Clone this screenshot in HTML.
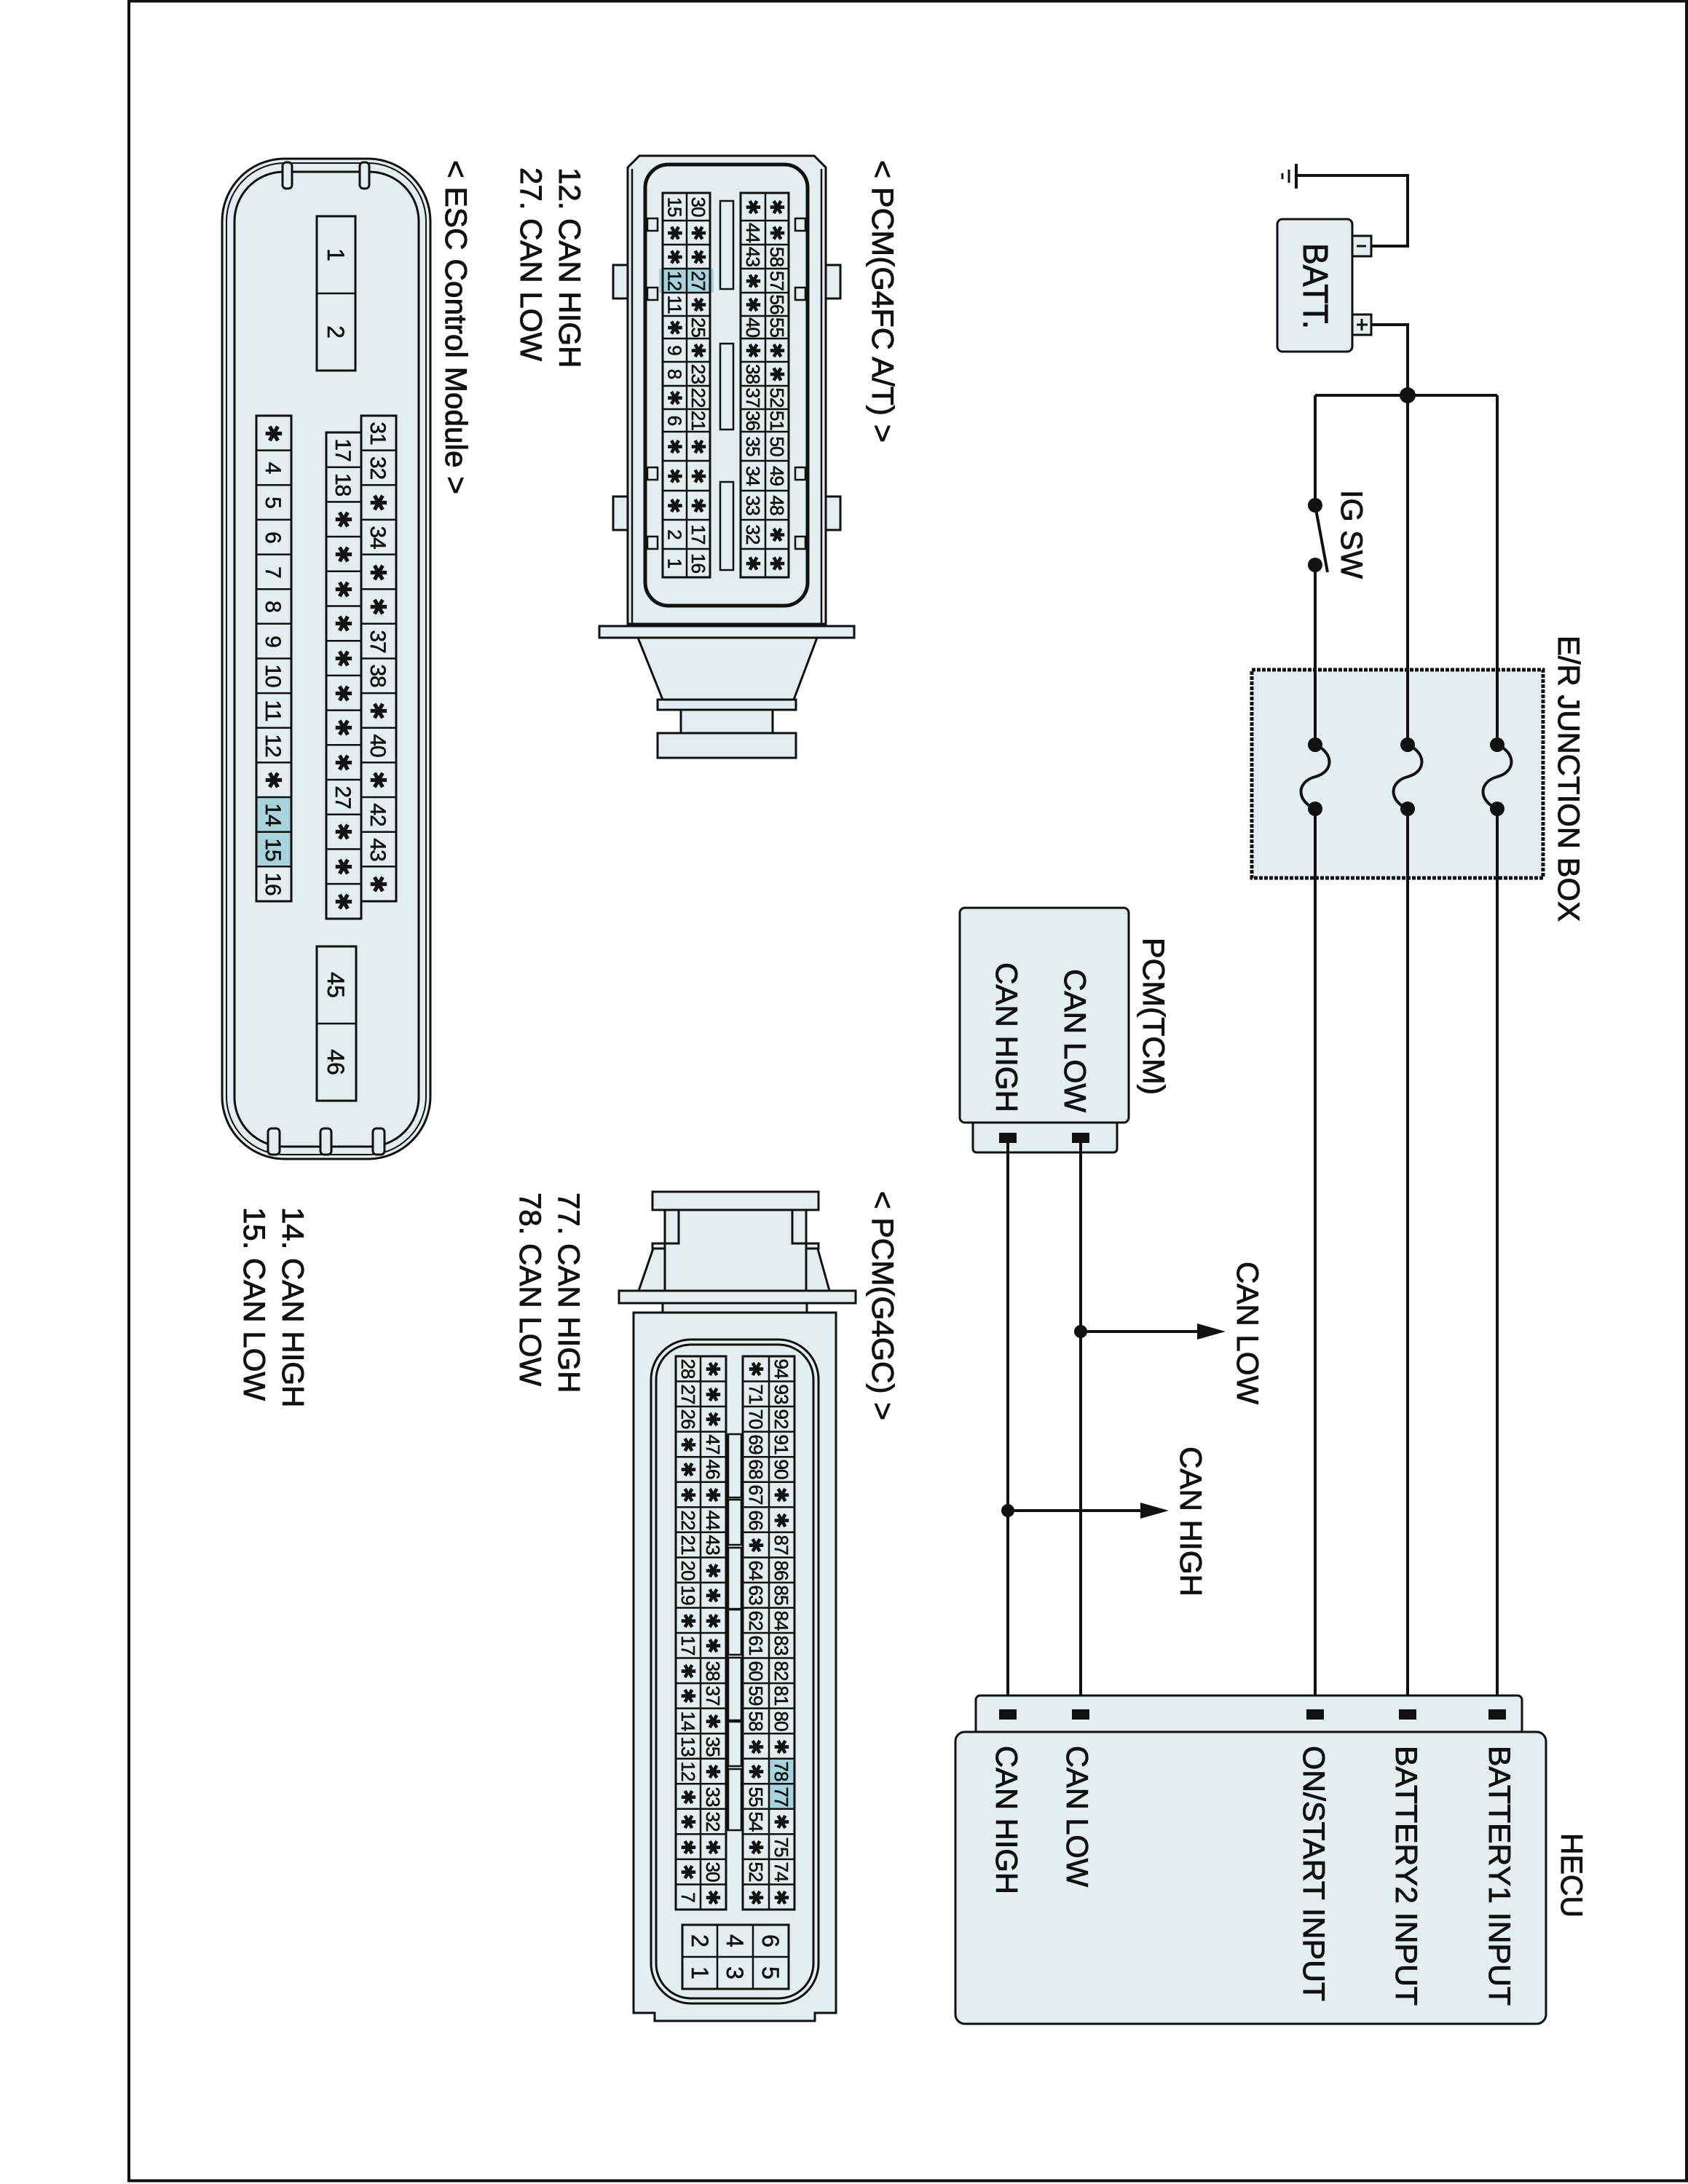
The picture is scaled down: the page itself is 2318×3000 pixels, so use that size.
<!DOCTYPE html>
<html><head><meta charset="utf-8"><style>
html,body{margin:0;padding:0;background:#fff}
svg{display:block}
text{font-family:"Liberation Sans","DejaVu Sans",sans-serif;fill:#111}
.l{font-size:42px;stroke:#111;stroke-width:0.9}
.c{font-size:26px;text-anchor:middle;letter-spacing:-1px;stroke:#111;stroke-width:0.6}
.e{font-size:30px;text-anchor:middle;letter-spacing:-1px;stroke:#111;stroke-width:0.6}
.b{font-size:32px;text-anchor:middle;stroke:#111;stroke-width:0.6}
.f{fill:#e4eef0;stroke:#111;stroke-width:3}
.w{fill:none;stroke:#111;stroke-width:4}
.g{fill:none;stroke:#111;stroke-width:2.5}
</style></head><body>
<svg width="2318" height="3000" viewBox="0 0 2318 3000" xmlns="http://www.w3.org/2000/svg">
<rect x="177" y="1.5" width="2139" height="2994" fill="none" stroke="#111" stroke-width="4"/>

<!-- ground & battery -->
<line x1="1780" y1="225" x2="1780" y2="259" stroke="#111" stroke-width="4"/>
<line x1="1770" y1="233" x2="1770" y2="251" stroke="#111" stroke-width="3"/>
<line x1="1761" y1="238" x2="1761" y2="246" stroke="#111" stroke-width="3"/>
<path class="w" d="M1780,241 H1933 V338 H1883"/>
<path class="w" d="M1883,446 H1933 V543"/>
<rect class="f" x="1754" y="301" width="103" height="182" rx="7"/>
<rect class="f" x="1857" y="324" width="26" height="28"/>
<rect class="f" x="1857" y="432" width="26" height="28"/>
<line x1="1863" y1="338" x2="1876" y2="338" stroke="#111" stroke-width="3"/>
<line x1="1863" y1="446" x2="1878" y2="446" stroke="#111" stroke-width="3"/>
<line x1="1870" y1="438" x2="1870" y2="454" stroke="#111" stroke-width="3"/>

<!-- junction box -->
<rect x="1719" y="920" width="400" height="286" fill="#e4eef0" stroke="#111" stroke-width="5" stroke-dasharray="5 2"/>

<!-- power wires -->
<path class="w" d="M1806,543 H2056"/>
<path class="w" d="M1806,543 V694 M1806,776 V1023 M1806,1111 V2355"/>
<path class="w" d="M1806,694 L1823,786"/>
<path class="w" d="M1933,543 V1023 M1933,1111 V2355"/>
<path class="w" d="M2056,543 V1023 M2056,1111 V2355"/>
<path class="w" d="M1806,1023 C1832,1034 1832,1060 1806,1067 C1780,1074 1780,1100 1806,1111"/>
<path class="w" d="M1933,1023 C1959,1034 1959,1060 1933,1067 C1907,1074 1907,1100 1933,1111"/>
<path class="w" d="M2056,1023 C2082,1034 2082,1060 2056,1067 C2030,1074 2030,1100 2056,1111"/>
<g fill="#111">
<circle cx="1933" cy="543" r="11"/>
<circle cx="1806" cy="694" r="10"/><circle cx="1806" cy="776" r="10"/>
<circle cx="1806" cy="1023" r="10"/><circle cx="1806" cy="1111" r="10"/>
<circle cx="1933" cy="1023" r="10"/><circle cx="1933" cy="1111" r="10"/>
<circle cx="2056" cy="1023" r="10"/><circle cx="2056" cy="1111" r="10"/>
</g>

<!-- TCM -->
<rect class="f" x="1336" y="1538" width="198" height="45" rx="5"/>
<rect class="f" x="1318" y="1247" width="232" height="295" rx="7" stroke-width="4"/>
<path class="w" d="M1384,1563 V2355 M1484,1563 V2355"/>
<rect x="1372" y="1556" width="24" height="14" fill="#111"/>
<rect x="1472" y="1556" width="24" height="14" fill="#111"/>
<path class="w" d="M1484,1829 H1650 M1384,2075 H1570"/>
<polygon points="1644,1818 1683,1829 1644,1840" fill="#111"/>
<polygon points="1566,2064 1605,2075 1566,2086" fill="#111"/>
<circle cx="1484" cy="1829" r="9" fill="#111"/>
<circle cx="1384" cy="2075" r="9" fill="#111"/>

<!-- HECU -->
<rect class="f" x="1340" y="2329" width="750" height="54" rx="6"/>
<rect class="f" x="1312" y="2379" width="811" height="401" rx="13" stroke-width="5"/>
<g fill="#111">
<rect x="1372" y="2348" width="24" height="14"/><rect x="1472" y="2348" width="24" height="14"/>
<rect x="1794" y="2348" width="24" height="14"/><rect x="1921" y="2348" width="24" height="14"/>
<rect x="2044" y="2348" width="24" height="14"/>
</g>

<!-- G4FC connector -->
<rect class="f" x="823" y="860" width="350" height="16"/>
<polygon class="f" points="876,876 1122,876 1090,961 910,961"/>
<rect class="f" x="903" y="961" width="190" height="14"/>
<rect class="f" x="935" y="975" width="126" height="32"/>
<rect class="f" x="903" y="1007" width="190" height="34"/>
<rect class="f" x="842" y="364" width="22" height="46"/><rect class="f" x="842" y="682" width="22" height="46"/>
<rect class="f" x="1132" y="364" width="22" height="46"/><rect class="f" x="1132" y="682" width="22" height="46"/>
<path class="f" d="M862,857 L862,230 L878,214 L1118,214 L1134,230 L1134,857 Z"/>
<path class="g" d="M868,857 V232 M1128,857 V232"/>
<rect x="886" y="226" width="223" height="606" rx="32" fill="#e4eef0" stroke="#111" stroke-width="5"/>
<g class="f" style="stroke-width:2.5">
<rect x="889" y="300" width="14" height="17"/><rect x="889" y="395" width="14" height="17"/>
<rect x="889" y="642" width="14" height="17"/><rect x="889" y="737" width="14" height="17"/>
<rect x="1092" y="300" width="14" height="17"/><rect x="1092" y="395" width="14" height="17"/>
<rect x="1092" y="642" width="14" height="17"/><rect x="1092" y="737" width="14" height="17"/>
<rect x="989" y="276" width="18" height="121"/><rect x="989" y="472" width="18" height="118"/><rect x="989" y="662" width="18" height="121"/>
</g>
<rect x="905" y="369" width="75" height="33" fill="#a9d3dc"/>
<rect x="910" y="265" width="65" height="528" fill="none" stroke="#111" stroke-width="3"/>
<rect x="1017" y="265" width="66" height="528" fill="none" stroke="#111" stroke-width="3"/>
<path class="g" d="M943,265V793 M1051,265V793
M910,303H975 M910,336H975 M910,369H975 M910,402H975 M910,434H975 M910,465H975 M910,497H975 M910,530H975 M910,562H975 M910,593H975 M910,633H975 M910,674H975 M910,714H975 M910,754H975
M1017,303H1083 M1017,336H1083 M1017,369H1083 M1017,402H1083 M1017,434H1083 M1017,465H1083 M1017,497H1083 M1017,530H1083 M1017,562H1083 M1017,593H1083 M1017,633H1083 M1017,674H1083 M1017,714H1083 M1017,754H1083"/>

<!-- G4GC connector -->
<rect class="f" x="850" y="1773" width="325" height="17"/>
<polygon class="f" points="877,1773 898,1712 913,1712 913,1773"/>
<polygon class="f" points="1107,1712 1122,1712 1139,1773 1107,1773"/>
<rect class="f" x="913" y="1660" width="194" height="113"/>
<rect class="f" x="913" y="1662" width="19" height="46"/><rect class="f" x="1088" y="1662" width="19" height="46"/>
<rect class="f" x="896" y="1637" width="228" height="25"/>
<rect class="f" x="896" y="1708" width="17" height="7"/><rect class="f" x="1107" y="1708" width="17" height="7"/>
<rect class="f" x="910" y="1790" width="198" height="13"/>
<polygon class="f" points="870,1803 1148,1803 1148,2765 1119,2765 1119,2776 899,2776 899,2765 870,2765"/>
<rect x="894" y="1840" width="230" height="912" rx="55" fill="none" stroke="#111" stroke-width="3"/>
<rect x="901" y="1847" width="216" height="898" rx="48" fill="none" stroke="#111" stroke-width="3"/>
<g class="f" style="stroke-width:2.5">
<rect x="1000" y="1970" width="18" height="87"/><rect x="1000" y="2060" width="18" height="62"/>
<rect x="1000" y="2126" width="18" height="84"/><rect x="1000" y="2211" width="18" height="62"/>
<rect x="1000" y="2277" width="18" height="86"/><rect x="1000" y="2365" width="18" height="61"/>
<rect x="1000" y="2430" width="18" height="84"/>
</g>
<line x1="998" y1="1970" x2="998" y2="2514" stroke="#111" stroke-width="5"/>
<rect x="1056" y="2416" width="35" height="69" fill="#a9d3dc"/>
<rect x="928" y="1863" width="69" height="760" fill="none" stroke="#111" stroke-width="3"/>
<rect x="1020" y="1863" width="71" height="760" fill="none" stroke="#111" stroke-width="3"/>
<path class="g" d="M962,1863V2623 M1056,1863V2623
M928,1897.5H997 M928,1932H997 M928,1966.6H997 M928,2001.2H997 M928,2035.7H997 M928,2070.3H997 M928,2104.8H997 M928,2139.4H997 M928,2173.9H997 M928,2208.5H997 M928,2243H997 M928,2277.5H997 M928,2312.1H997 M928,2346.6H997 M928,2381.2H997 M928,2415.7H997 M928,2450.3H997 M928,2484.8H997 M928,2519.4H997 M928,2553.9H997 M928,2588.5H997
M1020,1897.5H1091 M1020,1932H1091 M1020,1966.6H1091 M1020,2001.2H1091 M1020,2035.7H1091 M1020,2070.3H1091 M1020,2104.8H1091 M1020,2139.4H1091 M1020,2173.9H1091 M1020,2208.5H1091 M1020,2243H1091 M1020,2277.5H1091 M1020,2312.1H1091 M1020,2346.6H1091 M1020,2381.2H1091 M1020,2415.7H1091 M1020,2450.3H1091 M1020,2484.8H1091 M1020,2519.4H1091 M1020,2553.9H1091 M1020,2588.5H1091"/>
<rect x="937" y="2644" width="146" height="88" fill="none" stroke="#111" stroke-width="3"/>
<path class="g" d="M985,2644V2732 M1034,2644V2732 M937,2688H1083"/>

<!-- ESC module -->
<rect x="305" y="218" width="286" height="1374" rx="86" fill="#e4eef0" stroke="#111" stroke-width="3"/>
<rect x="311" y="224" width="274" height="1362" rx="80" fill="none" stroke="#111" stroke-width="2"/>
<rect x="322" y="236" width="253" height="1339" rx="68" fill="none" stroke="#111" stroke-width="3"/>
<rect class="f" x="388" y="223" width="13" height="36" rx="5"/><rect class="f" x="494" y="223" width="13" height="36" rx="5"/>
<rect class="f" x="368" y="1550" width="16" height="36" rx="5"/><rect class="f" x="440" y="1550" width="15" height="36" rx="5"/><rect class="f" x="512" y="1550" width="16" height="36" rx="5"/>
<rect class="f" x="435" y="297" width="53" height="212"/><line x1="435" y1="403" x2="488" y2="403" stroke="#111" stroke-width="2.5"/>
<rect class="f" x="435" y="1300" width="54" height="212"/><line x1="435" y1="1406" x2="489" y2="1406" stroke="#111" stroke-width="2.5"/>
<rect x="352" y="1095" width="48" height="95" fill="#a9d3dc"/>
<rect x="352" y="571" width="48" height="667" fill="none" stroke="#111" stroke-width="3"/>
<rect x="448" y="594" width="48" height="668" fill="none" stroke="#111" stroke-width="3"/>
<rect x="496" y="571" width="48" height="667" fill="none" stroke="#111" stroke-width="3"/>
<path class="g" d="M352,618.6H400 M352,666.3H400 M352,713.9H400 M352,761.6H400 M352,809.2H400 M352,856.8H400 M352,904.5H400 M352,952.1H400 M352,999.8H400 M352,1047.4H400 M352,1095H400 M352,1142.7H400 M352,1190.3H400
M496,618.6H544 M496,666.3H544 M496,713.9H544 M496,761.6H544 M496,809.2H544 M496,856.8H544 M496,904.5H544 M496,952.1H544 M496,999.8H544 M496,1047.4H544 M496,1095H544 M496,1142.7H544 M496,1190.3H544
M448,641.7H496 M448,689.4H496 M448,737.1H496 M448,784.8H496 M448,832.5H496 M448,880.2H496 M448,927.9H496 M448,975.6H496 M448,1023.3H496 M448,1071H496 M448,1118.7H496 M448,1166.4H496 M448,1214.1H496"/>

<!-- Labels (rotated) -->
<g class="l">
<text transform="translate(1790,334) rotate(90)" style="font-size:48px" textLength="118" lengthAdjust="spacingAndGlyphs">BATT.</text>
<text transform="translate(1842,673) rotate(90)" textLength="122" lengthAdjust="spacingAndGlyphs">IG SW</text>
<text transform="translate(2140,873) rotate(90)" textLength="393" lengthAdjust="spacingAndGlyphs">E/R JUNCTION BOX</text>
<text transform="translate(1570,1288) rotate(90)" textLength="216" lengthAdjust="spacingAndGlyphs">PCM(TCM)</text>
<text transform="translate(1462,1331) rotate(90)" textLength="197" lengthAdjust="spacingAndGlyphs">CAN LOW</text>
<text transform="translate(1368,1322) rotate(90)" textLength="206" lengthAdjust="spacingAndGlyphs">CAN HIGH</text>
<text transform="translate(1699,1733) rotate(90)" textLength="196" lengthAdjust="spacingAndGlyphs">CAN LOW</text>
<text transform="translate(1621,1987) rotate(90)" textLength="206" lengthAdjust="spacingAndGlyphs">CAN HIGH</text>
<text transform="translate(1368,2398) rotate(90)" textLength="204" lengthAdjust="spacingAndGlyphs">CAN HIGH</text>
<text transform="translate(1465,2398) rotate(90)" textLength="194" lengthAdjust="spacingAndGlyphs">CAN LOW</text>
<text transform="translate(1790,2398) rotate(90)" textLength="351" lengthAdjust="spacingAndGlyphs">ON/START INPUT</text>
<text transform="translate(1917,2398) rotate(90)" textLength="357" lengthAdjust="spacingAndGlyphs">BATTERY2 INPUT</text>
<text transform="translate(2045,2398) rotate(90)" textLength="357" lengthAdjust="spacingAndGlyphs">BATTERY1 INPUT</text>
<text transform="translate(2144,2518) rotate(90)" textLength="116" lengthAdjust="spacingAndGlyphs">HECU</text>
<text transform="translate(1198,220) rotate(90)" textLength="388" lengthAdjust="spacingAndGlyphs">&lt; PCM(G4FC A/T) &gt;</text>
<text transform="translate(768,230) rotate(90)">12. CAN HIGH</text>
<text transform="translate(715,230) rotate(90)">27. CAN LOW</text>
<text transform="translate(1198,1636) rotate(90)" textLength="315" lengthAdjust="spacingAndGlyphs">&lt; PCM(G4GC) &gt;</text>
<text transform="translate(767,1638) rotate(90)">77. CAN HIGH</text>
<text transform="translate(714,1638) rotate(90)">78. CAN LOW</text>
<text transform="translate(388,1658) rotate(90)">14. CAN HIGH</text>
<text transform="translate(335,1658) rotate(90)">15. CAN LOW</text>
<text transform="translate(612,220) rotate(90)" textLength="459" lengthAdjust="spacingAndGlyphs">&lt; ESC Control Module &gt;</text>
</g>

<!-- pin numbers, rotated frame: x=screen y, y=2318-screen x -->
<g transform="translate(2318,0) rotate(90)">
<text class="c" y="1400.5"><tspan x="284">15</tspan><tspan x="319.5">✱</tspan><tspan x="352.5">✱</tspan><tspan x="385.5">12</tspan><tspan x="418">11</tspan><tspan x="449.5">✱</tspan><tspan x="481">9</tspan><tspan x="513.5">8</tspan><tspan x="546">✱</tspan><tspan x="577.5">6</tspan><tspan x="613">✱</tspan><tspan x="653.5">✱</tspan><tspan x="694">✱</tspan><tspan x="734">2</tspan><tspan x="773.5">1</tspan></text>
<text class="c" y="1368"><tspan x="284">30</tspan><tspan x="319.5">✱</tspan><tspan x="352.5">✱</tspan><tspan x="385.5">27</tspan><tspan x="418">✱</tspan><tspan x="449.5">25</tspan><tspan x="481">✱</tspan><tspan x="513.5">23</tspan><tspan x="546">22</tspan><tspan x="577.5">21</tspan><tspan x="613">✱</tspan><tspan x="653.5">✱</tspan><tspan x="694">✱</tspan><tspan x="734">17</tspan><tspan x="773.5">16</tspan></text>
<text class="c" y="1293"><tspan x="284">✱</tspan><tspan x="319.5">44</tspan><tspan x="352.5">43</tspan><tspan x="385.5">✱</tspan><tspan x="418">✱</tspan><tspan x="449.5">40</tspan><tspan x="481">✱</tspan><tspan x="513.5">38</tspan><tspan x="546">37</tspan><tspan x="577.5">36</tspan><tspan x="613">35</tspan><tspan x="653.5">34</tspan><tspan x="694">33</tspan><tspan x="734">32</tspan><tspan x="773.5">✱</tspan></text>
<text class="c" y="1260"><tspan x="284">✱</tspan><tspan x="319.5">✱</tspan><tspan x="352.5">58</tspan><tspan x="385.5">57</tspan><tspan x="418">56</tspan><tspan x="449.5">55</tspan><tspan x="481">✱</tspan><tspan x="513.5">✱</tspan><tspan x="546">52</tspan><tspan x="577.5">51</tspan><tspan x="613">50</tspan><tspan x="653.5">49</tspan><tspan x="694">48</tspan><tspan x="734">✱</tspan><tspan x="773.5">✱</tspan></text>

<text class="c" y="1382"><tspan x="1880">28</tspan><tspan x="1915">27</tspan><tspan x="1949">26</tspan><tspan x="1984">✱</tspan><tspan x="2018">✱</tspan><tspan x="2053">✱</tspan><tspan x="2088">22</tspan><tspan x="2122">21</tspan><tspan x="2157">20</tspan><tspan x="2191">19</tspan><tspan x="2226">✱</tspan><tspan x="2260">17</tspan><tspan x="2295">✱</tspan><tspan x="2329">✱</tspan><tspan x="2364">14</tspan><tspan x="2399">13</tspan><tspan x="2433">12</tspan><tspan x="2468">✱</tspan><tspan x="2502">✱</tspan><tspan x="2537">✱</tspan><tspan x="2571">✱</tspan><tspan x="2606">7</tspan></text>
<text class="c" y="1348"><tspan x="1880">✱</tspan><tspan x="1915">✱</tspan><tspan x="1949">✱</tspan><tspan x="1984">47</tspan><tspan x="2018">46</tspan><tspan x="2053">✱</tspan><tspan x="2088">44</tspan><tspan x="2122">43</tspan><tspan x="2157">✱</tspan><tspan x="2191">✱</tspan><tspan x="2226">✱</tspan><tspan x="2260">✱</tspan><tspan x="2295">38</tspan><tspan x="2329">37</tspan><tspan x="2364">✱</tspan><tspan x="2399">35</tspan><tspan x="2433">✱</tspan><tspan x="2468">33</tspan><tspan x="2502">32</tspan><tspan x="2537">✱</tspan><tspan x="2571">30</tspan><tspan x="2606">✱</tspan></text>
<text class="c" y="1289"><tspan x="1880">✱</tspan><tspan x="1915">71</tspan><tspan x="1949">70</tspan><tspan x="1984">69</tspan><tspan x="2018">68</tspan><tspan x="2053">67</tspan><tspan x="2088">66</tspan><tspan x="2122">✱</tspan><tspan x="2157">64</tspan><tspan x="2191">63</tspan><tspan x="2226">62</tspan><tspan x="2260">61</tspan><tspan x="2295">60</tspan><tspan x="2329">59</tspan><tspan x="2364">58</tspan><tspan x="2399">✱</tspan><tspan x="2433">✱</tspan><tspan x="2468">55</tspan><tspan x="2502">54</tspan><tspan x="2537">✱</tspan><tspan x="2571">52</tspan><tspan x="2606">✱</tspan></text>
<text class="c" y="1254"><tspan x="1880">94</tspan><tspan x="1915">93</tspan><tspan x="1949">92</tspan><tspan x="1984">91</tspan><tspan x="2018">90</tspan><tspan x="2053">✱</tspan><tspan x="2088">✱</tspan><tspan x="2122">87</tspan><tspan x="2157">86</tspan><tspan x="2191">85</tspan><tspan x="2226">84</tspan><tspan x="2260">83</tspan><tspan x="2295">82</tspan><tspan x="2329">81</tspan><tspan x="2364">80</tspan><tspan x="2399">✱</tspan><tspan x="2433">78</tspan><tspan x="2468">77</tspan><tspan x="2502">✱</tspan><tspan x="2537">75</tspan><tspan x="2571">74</tspan><tspan x="2606">✱</tspan></text>
<text class="b" y="1368"><tspan x="2666">2</tspan><tspan x="2710">1</tspan></text>
<text class="b" y="1320"><tspan x="2666">4</tspan><tspan x="2710">3</tspan></text>
<text class="b" y="1271"><tspan x="2666">6</tspan><tspan x="2710">5</tspan></text>

<text class="e" y="1953"><tspan x="595">✱</tspan><tspan x="642.5">4</tspan><tspan x="690">5</tspan><tspan x="738">6</tspan><tspan x="786">7</tspan><tspan x="833">8</tspan><tspan x="881">9</tspan><tspan x="928">10</tspan><tspan x="976">11</tspan><tspan x="1024">12</tspan><tspan x="1071">✱</tspan><tspan x="1119">14</tspan><tspan x="1167">15</tspan><tspan x="1214">16</tspan></text>
<text class="e" y="1857"><tspan x="618">17</tspan><tspan x="665.5">18</tspan><tspan x="713">✱</tspan><tspan x="761">✱</tspan><tspan x="809">✱</tspan><tspan x="856">✱</tspan><tspan x="904">✱</tspan><tspan x="952">✱</tspan><tspan x="999">✱</tspan><tspan x="1047">✱</tspan><tspan x="1095">27</tspan><tspan x="1142">✱</tspan><tspan x="1190">✱</tspan><tspan x="1238">✱</tspan></text>
<text class="e" y="1809"><tspan x="595">31</tspan><tspan x="642.5">32</tspan><tspan x="690">✱</tspan><tspan x="738">34</tspan><tspan x="786">✱</tspan><tspan x="833">✱</tspan><tspan x="881">37</tspan><tspan x="928">38</tspan><tspan x="976">✱</tspan><tspan x="1024">40</tspan><tspan x="1071">✱</tspan><tspan x="1119">42</tspan><tspan x="1167">43</tspan><tspan x="1214">✱</tspan></text>
<text class="b" y="1868"><tspan x="350">1</tspan><tspan x="456">2</tspan><tspan x="1353">45</tspan><tspan x="1459">46</tspan></text>
</g>
</svg>
</body></html>
